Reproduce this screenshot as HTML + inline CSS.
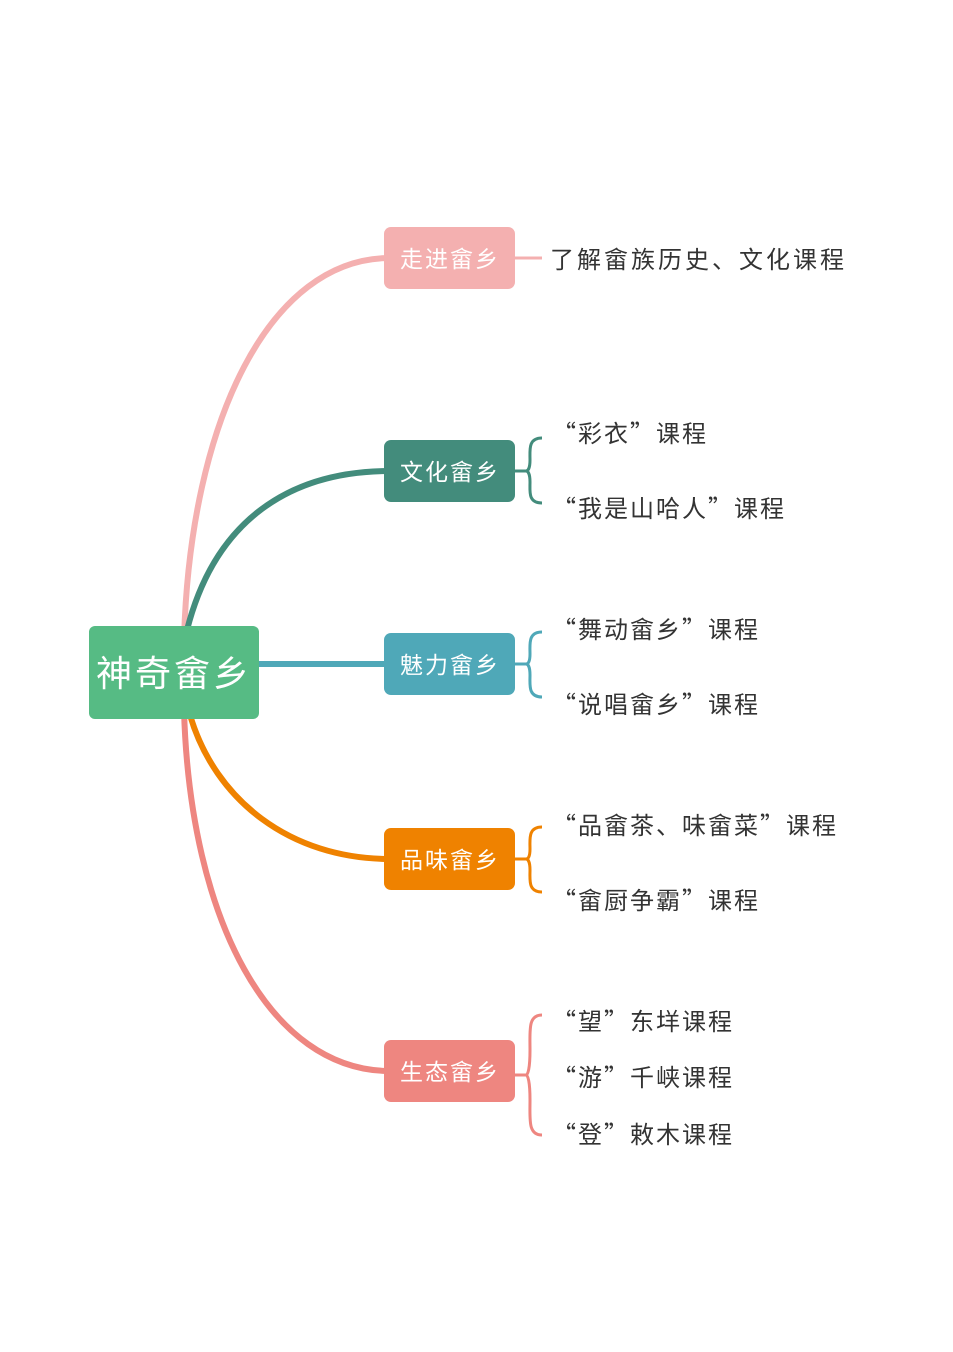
<!DOCTYPE html>
<html><head><meta charset="utf-8"><style>
body{margin:0;background:#fff;}
svg text{font-family:"Noto Sans CJK SC",sans-serif;}
</style></head><body>
<svg width="953" height="1347" viewBox="0 0 953 1347" xmlns="http://www.w3.org/2000/svg">
<g fill="none" stroke-width="6" stroke-linecap="round">
<path d="M184 640 C190 420 270 258 390 258" stroke="#f4b0b0"/>
<path d="M187 630 C215 520 290 471 390 471" stroke="#438c7c"/>
<path d="M255 664 L390 664" stroke="#4fa8b8"/>
<path d="M190 715 C215 800 290 859 390 859" stroke="#ef8200"/>
<path d="M184 710 C190 920 270 1071 390 1071" stroke="#ee8680"/>
</g>
<g fill="none" stroke-width="3">
<path d="M512 258 L542 258" stroke="#f4b0b0"/>
<g stroke="#438c7c"><path d="M512 471 L528 471 M542 438 C528 438 530 450 530 460 C530 468 528 471 526 471 C528 471 530 474 530 482 C530 492 528 503 542 503"/></g>
<g stroke="#4fa8b8"><path d="M512 664 L528 664 M542 632 C528 632 530 644 530 654 C530 662 528 664 526 664 C528 664 530 667 530 675 C530 685 528 697 542 697"/></g>
<g stroke="#ef8200"><path d="M512 859 L528 859 M542 827 C528 827 530 839 530 849 C530 857 528 859 526 859 C528 859 530 862 530 870 C530 880 528 892 542 892"/></g>
<g stroke="#ee8680"><path d="M512 1075 L528 1075 M542 1015 C528 1015 530 1030 530 1050 C530 1068 528 1075 526 1075 C528 1075 530 1082 530 1100 C530 1120 528 1135 542 1135"/></g>
</g>
<rect x="89" y="626" width="170" height="93" rx="6" fill="#56bb84"/>
<text x="174" y="686" font-size="36" fill="#fff" text-anchor="middle" letter-spacing="3">神奇畲乡</text>
<g font-size="23" fill="#fff" text-anchor="middle" letter-spacing="2">
<rect x="384" y="227" width="131" height="62" rx="7" fill="#f4b0b0"/><text x="450" y="267">走进畲乡</text>
<rect x="384" y="440" width="131" height="62" rx="7" fill="#438c7c"/><text x="450" y="480">文化畲乡</text>
<rect x="384" y="633" width="131" height="62" rx="7" fill="#4fa8b8"/><text x="450" y="673">魅力畲乡</text>
<rect x="384" y="828" width="131" height="62" rx="7" fill="#ef8200"/><text x="450" y="868">品味畲乡</text>
<rect x="384" y="1040" width="131" height="62" rx="7" fill="#ee8680"/><text x="450" y="1080">生态畲乡</text>
</g>
<g font-size="24" fill="#333" letter-spacing="3">
<text x="550" y="268">了解畲族历史、文化课程</text>
</g>
<g font-size="24" fill="#333" letter-spacing="2">
<text x="552" y="442">“彩衣”课程</text>
<text x="552" y="517">“我是山哈人”课程</text>
<text x="552" y="638">“舞动畲乡”课程</text>
<text x="552" y="713">“说唱畲乡”课程</text>
<text x="552" y="834">“品畲茶、味畲菜”课程</text>
<text x="552" y="909">“畲厨争霸”课程</text>
<text x="552" y="1030">“望”东垟课程</text>
<text x="552" y="1086">“游”千峡课程</text>
<text x="552" y="1143">“登”敕木课程</text>
</g>
</svg>
</body></html>
